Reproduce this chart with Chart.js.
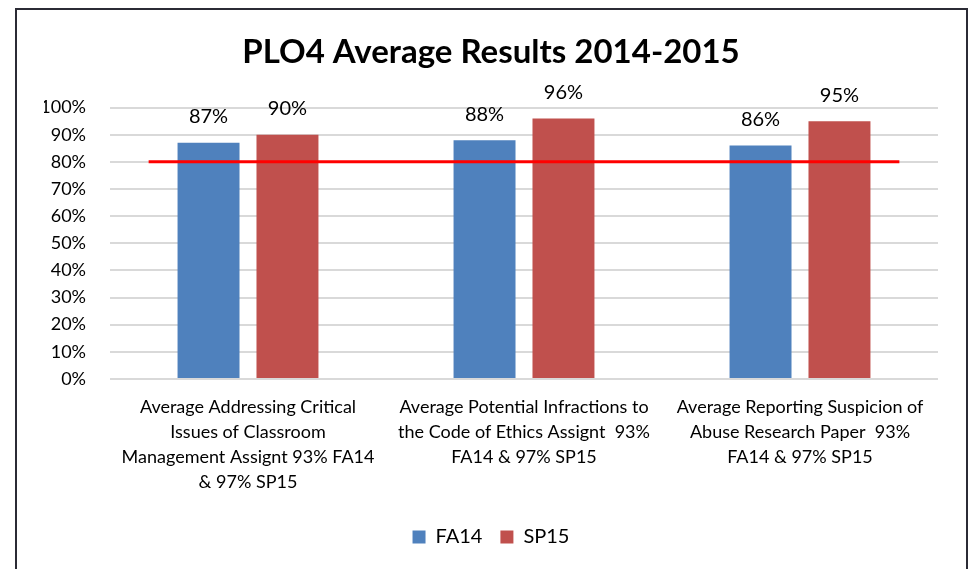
<!DOCTYPE html>
<html>
<head>
<meta charset="utf-8">
<script src="https://cdn.jsdelivr.net/npm/chart.js@4.4.1/dist/chart.umd.min.js"></script>
<style>
  html, body { margin: 0; padding: 0; background: #fff; }
  #wrap { position: relative; width: 969px; height: 569px; }
  #frame {
    position: absolute; left: 15px; top: 8px; width: 949px; height: 600px;
    border: 2px solid #2b2b35; pointer-events: none;
  }
</style>
</head>
<body>
<div id="wrap">
  <canvas id="chart" width="969" height="569"></canvas>
  <div id="frame"></div>
</div>
<script>
// chart data
const categories = [
    ["Average Addressing Critical", "Issues of Classroom", "Management Assignt 93% FA14", "& 97% SP15"],
    ["Average Potential Infractions to", "the Code of Ethics Assignt  93%", "FA14 & 97% SP15"],
    ["Average Reporting Suspicion of", "Abuse Research Paper  93%", "FA14 & 97% SP15"]
];
const fa14 = [87, 88, 86];
const sp15 = [90, 96, 95];
const yTicks = [0, 10, 20, 30, 40, 50, 60, 70, 80, 90, 100];

// red target line: start / end in category index units, and its level
const targetX = [-0.36, 2.36];
const targetY = 80;

const FONT = "Lato, 'Open Sans', sans-serif";

// draws the value above each bar
const barValues = {
    id: 'barValues',
    afterDatasetsDraw(chart) {
        const ctx = chart.ctx;
        ctx.save();
        ctx.font = "20px " + FONT;
        ctx.fillStyle = "#000";
        ctx.textAlign = "center";
        ctx.textBaseline = "middle";
        chart.data.datasets.forEach(function (ds, i) {
            chart.getDatasetMeta(i).data.forEach(function (bar, j) {
                ctx.fillText(ds.data[j] + "%", bar.x, bar.y - 26);
            });
        });
        ctx.restore();
    }
};

// red horizontal target line, placed through the x and y scales
const targetLine = {
    id: 'targetLine',
    afterDatasetsDraw(chart) {
        const ctx = chart.ctx;
        const x = chart.scales.x;
        const y = chart.scales.y.getPixelForValue(targetY);
        ctx.save();
        ctx.strokeStyle = '#FF0000';
        ctx.lineWidth = 3;
        ctx.beginPath();
        ctx.moveTo(x.getPixelForValue(targetX[0]), y);
        ctx.lineTo(x.getPixelForValue(targetX[1]), y);
        ctx.stroke();
        ctx.restore();
    }
};

const ctx = document.getElementById('chart').getContext('2d');
const chart = new Chart(ctx, {
    type: 'bar',
    data: {
        labels: categories,
        datasets: [
            {
                label: 'FA14',
                data: fa14,
                backgroundColor: '#4F81BD'
            },
            {
                label: 'SP15',
                data: sp15,
                backgroundColor: '#C0504D'
            }
        ]
    },
    options: {
        responsive: false,
        animation: false,
        datasets: {
            bar: { categoryPercentage: 0.572, barPercentage: 0.785 }
        },
        layout: { padding: { left: 44, right: 31, top: 0, bottom: 12 } },
        plugins: {
            title: {
                display: true,
                text: 'PLO4 Average Results 2014-2015',
                color: '#000',
                font: { family: FONT, size: 33, weight: 'bold' },
                padding: { top: 33, bottom: 35 }
            },
            legend: {
                position: 'bottom',
                labels: {
                    color: '#000',
                    font: { family: FONT, size: 20 },
                    boxWidth: 13,
                    boxHeight: 13,
                    padding: 18
                }
            },
            tooltip: { enabled: false }
        },
        scales: {
            x: {
                grid: { display: false },
                border: { display: false },
                afterFit: s => { s.height = s.height + 6; },
                ticks: {
                    color: '#000',
                    font: { family: FONT, size: 18, lineHeight: 1.39 },
                    maxRotation: 0,
                    autoSkip: false,
                    padding: 8
                }
            },
            y: {
                min: 0,
                max: 100,
                afterBuildTicks: s => { s.ticks = yTicks.map(v => ({ value: v })); },
                afterFit: s => { s.width = 66; },
                grid: { color: '#D9D9D9', lineWidth: 2, drawTicks: false },
                border: { display: false },
                ticks: {
                    color: '#000',
                    font: { family: FONT, size: 18 },
                    padding: 24,
                    callback: v => v + '%'
                }
            }
        }
    },
    plugins: [targetLine, barValues]
});
</script>
</body>
</html>
